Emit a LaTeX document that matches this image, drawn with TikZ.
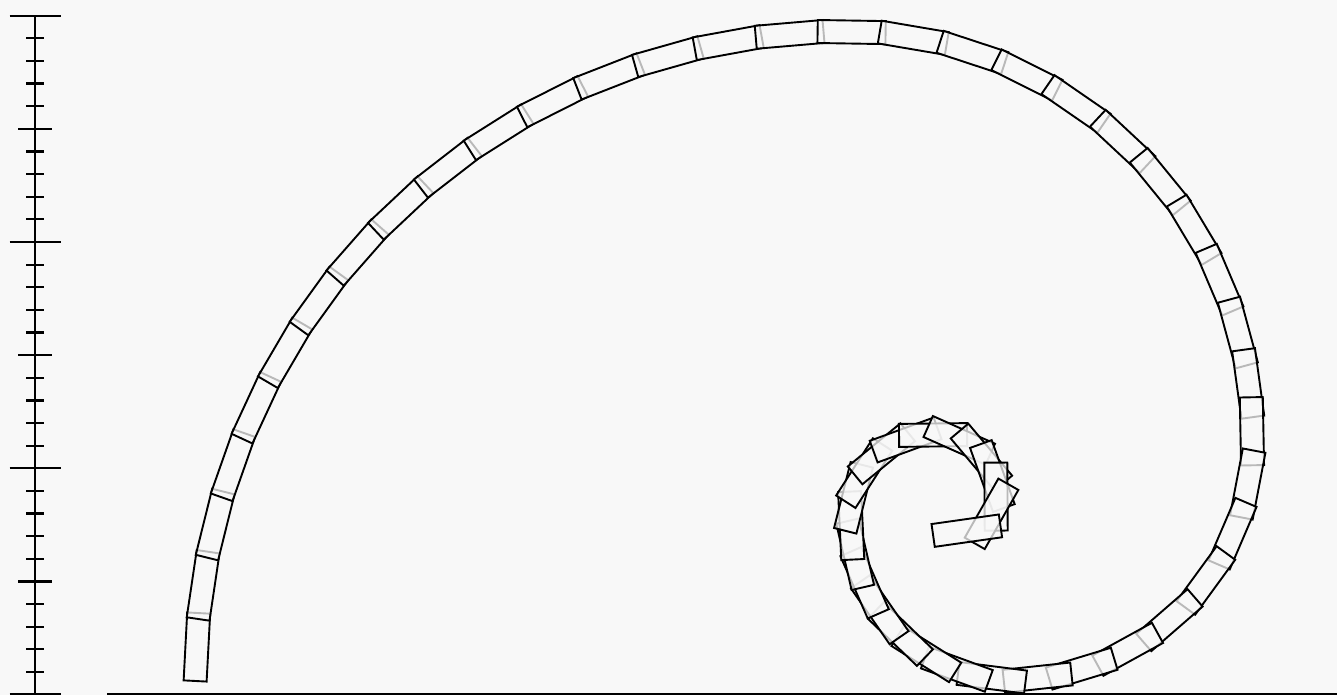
\documentclass[tikz,border=0pt]{standalone}
\definecolor{bgc}{RGB}{248,248,248}
\tikzset{
  linkbox/.style={draw=black, line width=1.9pt, fill=bgc, fill opacity=0.75, line join=miter},
  rulerline/.style={draw=black, line width=2.2pt},
}
\def\arrCX{{845,845,1012,1012,934,934,962}}
\def\arrCY{{14,256,256,177,177,198,198}}
\def\arrR{{649,407,240,161,83,62,34}}
\def\arrS{{0,1019.4,1658.7,2035.7,2288.6,2419.0,2516.4}}
\begin{document}
\begin{tikzpicture}[x=1pt,y=1pt]
\fill[bgc] (0,0) rectangle (1337,695);
\useasboundingbox (0,0) rectangle (1337,695);
% ruler
\draw[rulerline] (35,679.3) -- (35,0);
\foreach \i in {0,...,30}{
  \pgfmathsetmacro{\tkY}{679.3-22.63*\i}
  \pgfmathsetmacro{\tkL}{mod(\i,10)==0 ? 25.5 : (mod(\i,5)==0 ? 17 : 9)}
  \draw[rulerline] (35-\tkL,\tkY) -- (35+\tkL,\tkY);
}
% baseline
\draw[rulerline] (107,1) -- (1337,1);
% chain of links along the spiral
\foreach \spS in {34,96,158,220,282,344,406,468,530,592,654,716,778,840,902,964,1026,1088,
  1149,1208,1265,1325,1380,1439,1495,1551,1603,1651,1704,1756,1810,1864,1915,1965,2010,2056,2092,
  2126,2159,2191,2222,2252,2281,2309,2336,2362,2390,2418,2445,2473,2495,2516,2534,2565}{
  \pgfmathtruncatemacro{\spI}{(\spS<1019.4)?0:((\spS<1658.7)?1:((\spS<2035.7)?2:((\spS<2288.6)?3:((\spS<2419)?4:((\spS<2516.4)?5:6)))))}
  \pgfmathsetmacro{\spPh}{180-90*\spI-(\spS-\arrS[\spI])/\arrR[\spI]*57.29578}
  \pgfmathsetmacro{\spX}{\arrCX[\spI]+\arrR[\spI]*cos(\spPh)}
  \pgfmathsetmacro{\spY}{\arrCY[\spI]+\arrR[\spI]*sin(\spPh)}
  \pgfmathsetmacro{\spA}{\spPh-90}
  \draw[linkbox, shift={(\spX,\spY)}, rotate=\spA] (-34,-11.5) -- (34,-11.5) -- (34,11.5) -- (-34,11.5) -- cycle;
}
\end{tikzpicture}
\end{document}
